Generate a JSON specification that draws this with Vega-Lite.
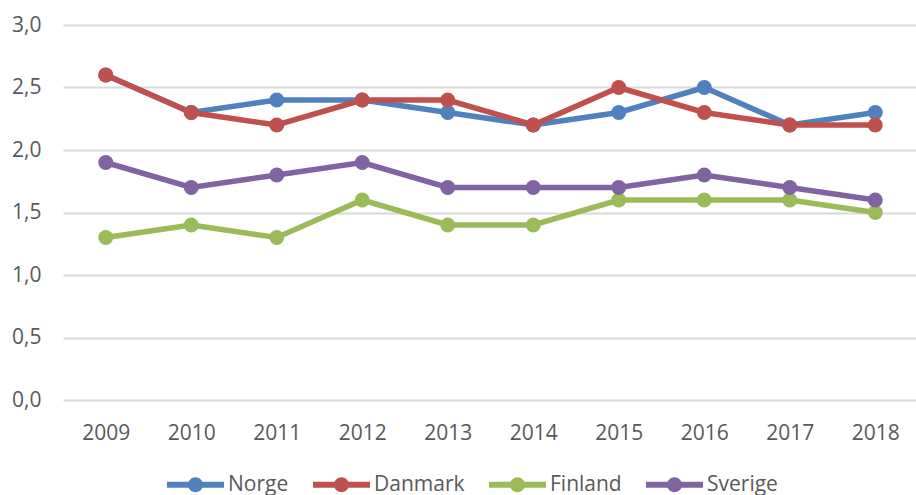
{
  "$schema": "https://vega.github.io/schema/vega-lite/v6.json",
  "autosize": {"type": "none"},
  "padding": {"left": 63, "top": 25, "right": 0, "bottom": 95},
  "width": 855,
  "height": 375,
  "config": {
    "locale": {"number": {"decimal": ",", "thousands": ".", "grouping": [3], "currency": ["", " kr"]}},
    "view": {"stroke": null},
    "font": "Open Sans"
  },
  "data": {
    "values": [
      {"land": "Norge", "year": "2009", "value": 2.6},
      {"land": "Norge", "year": "2010", "value": 2.3},
      {"land": "Norge", "year": "2011", "value": 2.4},
      {"land": "Norge", "year": "2012", "value": 2.4},
      {"land": "Norge", "year": "2013", "value": 2.3},
      {"land": "Norge", "year": "2014", "value": 2.2},
      {"land": "Norge", "year": "2015", "value": 2.3},
      {"land": "Norge", "year": "2016", "value": 2.5},
      {"land": "Norge", "year": "2017", "value": 2.2},
      {"land": "Norge", "year": "2018", "value": 2.3},
      {"land": "Danmark", "year": "2009", "value": 2.6},
      {"land": "Danmark", "year": "2010", "value": 2.3},
      {"land": "Danmark", "year": "2011", "value": 2.2},
      {"land": "Danmark", "year": "2012", "value": 2.4},
      {"land": "Danmark", "year": "2013", "value": 2.4},
      {"land": "Danmark", "year": "2014", "value": 2.2},
      {"land": "Danmark", "year": "2015", "value": 2.5},
      {"land": "Danmark", "year": "2016", "value": 2.3},
      {"land": "Danmark", "year": "2017", "value": 2.2},
      {"land": "Danmark", "year": "2018", "value": 2.2},
      {"land": "Finland", "year": "2009", "value": 1.3},
      {"land": "Finland", "year": "2010", "value": 1.4},
      {"land": "Finland", "year": "2011", "value": 1.3},
      {"land": "Finland", "year": "2012", "value": 1.6},
      {"land": "Finland", "year": "2013", "value": 1.4},
      {"land": "Finland", "year": "2014", "value": 1.4},
      {"land": "Finland", "year": "2015", "value": 1.6},
      {"land": "Finland", "year": "2016", "value": 1.6},
      {"land": "Finland", "year": "2017", "value": 1.6},
      {"land": "Finland", "year": "2018", "value": 1.5},
      {"land": "Sverige", "year": "2009", "value": 1.9},
      {"land": "Sverige", "year": "2010", "value": 1.7},
      {"land": "Sverige", "year": "2011", "value": 1.8},
      {"land": "Sverige", "year": "2012", "value": 1.9},
      {"land": "Sverige", "year": "2013", "value": 1.7},
      {"land": "Sverige", "year": "2014", "value": 1.7},
      {"land": "Sverige", "year": "2015", "value": 1.7},
      {"land": "Sverige", "year": "2016", "value": 1.8},
      {"land": "Sverige", "year": "2017", "value": 1.7},
      {"land": "Sverige", "year": "2018", "value": 1.6}
    ]
  },
  "mark": {"type": "line", "strokeWidth": 5.5, "point": {"filled": true, "size": 225, "opacity": 1}},
  "encoding": {
    "x": {
      "field": "year", "type": "ordinal",
      "scale": {"type": "point", "padding": 0.5},
      "axis": {"title": null, "labelAngle": 0, "domain": false, "ticks": false, "grid": false,
               "labelFontSize": 21, "labelColor": "#595959", "labelPadding": 22, "labelFont": "Open Sans"}
    },
    "y": {
      "field": "value", "type": "quantitative",
      "scale": {"domain": [0, 3], "nice": false},
      "axis": {"title": null, "values": [0, 0.5, 1, 1.5, 2, 2.5, 3], "format": ".1f", "domain": false, "ticks": false,
               "grid": true, "gridColor": "#d9d9d9", "gridWidth": 2,
               "labelFontSize": 21, "labelColor": "#595959", "labelPadding": 22, "labelFont": "Open Sans"}
    },
    "color": {
      "field": "land", "type": "nominal",
      "sort": ["Norge", "Danmark", "Finland", "Sverige"],
      "scale": {"domain": ["Norge", "Danmark", "Finland", "Sverige"], "range": ["#4f81bd", "#c0504d", "#9bbb59", "#8064a2"]},
      "legend": {
        "title": null, "orient": "none", "legendX": 104, "legendY": 431,
        "direction": "horizontal", "columns": 4,
        "columnPadding": 24, "labelOffset": 4,
        "labelFontSize": 21, "labelColor": "#595959", "labelFont": "Open Sans",
        "symbolType": "M-1,-0.105L1,-0.105L1,0.105L-1,0.105Z M-0.26,0A0.26,0.26 0 1,1 0.26,0A0.26,0.26 0 1,1 -0.26,0Z",
        "symbolSize": 3249, "symbolStrokeWidth": 0,
        "encode": {"symbols": {"update": {"fill": {"scale": "color", "field": "value"}, "opacity": {"value": 1}}}}
      }
    }
  }
}
